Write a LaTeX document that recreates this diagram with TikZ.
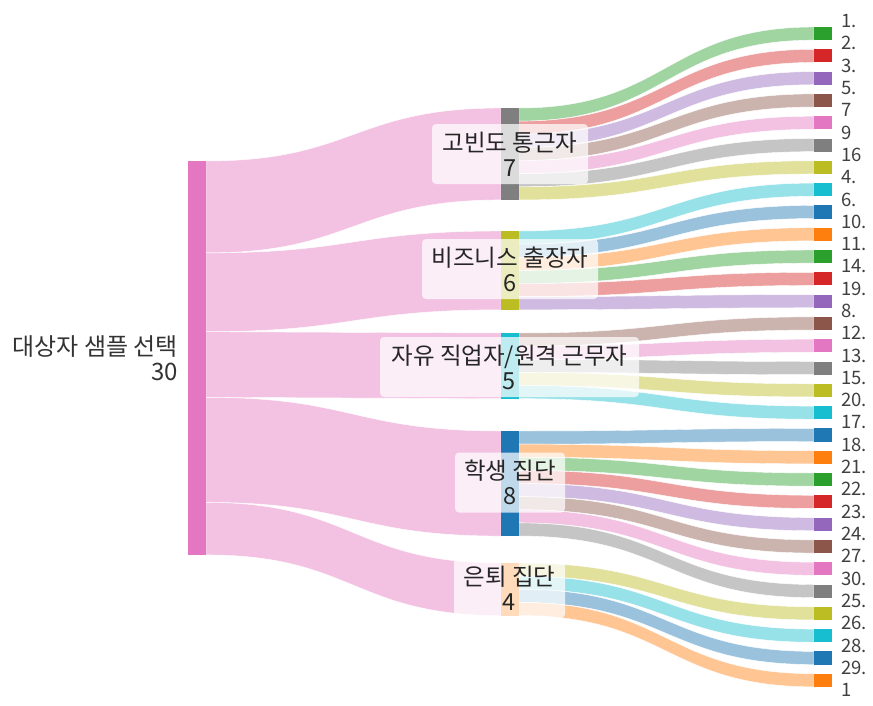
\documentclass[tikz,border=0pt]{standalone}
\usepackage{fontspec}
\setmainfont{Noto Sans CJK KR}
\usetikzlibrary{calc}
\definecolor{cBlue}{HTML}{1F77B4}
\definecolor{cOrange}{HTML}{FF7F0E}
\definecolor{cGreen}{HTML}{2CA02C}
\definecolor{cRed}{HTML}{D62728}
\definecolor{cPurple}{HTML}{9467BD}
\definecolor{cBrown}{HTML}{8C564B}
\definecolor{cPink}{HTML}{E377C2}
\definecolor{cGray}{HTML}{7F7F7F}
\definecolor{cOlive}{HTML}{BCBD22}
\definecolor{cCyan}{HTML}{17BECF}
\def\uu{13.13}
\tikzset{
  bar/.style={rectangle, inner sep=0pt, outer sep=0pt, minimum width=18pt, anchor=north west, draw=none},
  lblbox/.style={rectangle, rounded corners=4pt, fill=white, fill opacity=0.72, text opacity=1,
    align=center, inner sep=0pt, text=black!85, font=\fontsize{23.5}{25}\selectfont},
  endlbl/.style={anchor=west, inner sep=0pt, text=black!75, font=\fontsize{18.5}{18.5}\selectfont},
  srclbl/.style={anchor=east, align=right, inner sep=0pt, text=black!80, font=\fontsize{24}{25}\selectfont}
}
% #1 source node, #2 source offset (units), #3 target node, #4 target offset (units), #5 thickness (units), #6 colour
\newcommand\ribbon[6]{%
  \fill[#6, draw=white, line width=0.4pt]
    let \p1=($(#1.north east)+(0pt,{-(#2)*\uu pt})$),
        \p2=($(#3.north west)+(0pt,{-(#4)*\uu pt})$) in
    (\p1) .. controls ({(\x1+\x2)/2},\y1) and ({(\x1+\x2)/2},\y2) .. (\p2)
    -- (\x2,{\y2-(#5)*\uu pt})
    .. controls ({(\x1+\x2)/2},{\y2-(#5)*\uu pt}) and ({(\x1+\x2)/2},{\y1-(#5)*\uu pt}) .. (\x1,{\y1-(#5)*\uu pt})
    -- cycle;}
\begin{document}
\begin{tikzpicture}[x=1pt,y=-1pt]
\useasboundingbox (0,0) rectangle (873,705);
% nodes
\node[bar, fill=cPink, minimum height=30*\uu pt] (L) at (188,161) {};
\node[bar, fill=cGray,  minimum height=7*\uu pt] (M1) at (501,108) {};
\node[bar, fill=cOlive, minimum height=6*\uu pt] (M2) at (501,231) {};
\node[bar, fill=cCyan,  minimum height=5*\uu pt] (M3) at (501,333) {};
\node[bar, fill=cBlue,  minimum height=8*\uu pt] (M4) at (501,431) {};
\node[bar, fill=cOrange,minimum height=4*\uu pt] (M5) at (501,563) {};
\foreach \c [count=\j from 0] in {cGreen,cRed,cPurple,cBrown,cPink,cGray,cOlive,cCyan,cBlue,cOrange,
  cGreen,cRed,cPurple,cBrown,cPink,cGray,cOlive,cCyan,cBlue,cOrange,
  cGreen,cRed,cPurple,cBrown,cPink,cGray,cOlive,cCyan,cBlue,cOrange}
  {\node[bar, fill=\c, minimum height=\uu pt] (R\j) at (814,{27+22.3*\j}) {};}
% ribbons left -> middle
\ribbon{L}{0}{M1}{0}{7}{cPink!45}
\ribbon{L}{7}{M2}{0}{6}{cPink!45}
\ribbon{L}{13}{M3}{0}{5}{cPink!45}
\ribbon{L}{18}{M4}{0}{8}{cPink!45}
\ribbon{L}{26}{M5}{0}{4}{cPink!45}
% ribbons middle -> right
\foreach \s/\k/\j/\c in {
  M1/0/0/cGreen, M1/1/1/cRed, M1/2/2/cPurple, M1/3/3/cBrown, M1/4/4/cPink, M1/5/5/cGray, M1/6/6/cOlive,
  M2/0/7/cCyan, M2/1/8/cBlue, M2/2/9/cOrange, M2/3/10/cGreen, M2/4/11/cRed, M2/5/12/cPurple,
  M3/0/13/cBrown, M3/1/14/cPink, M3/2/15/cGray, M3/3/16/cOlive, M3/4/17/cCyan,
  M4/0/18/cBlue, M4/1/19/cOrange, M4/2/20/cGreen, M4/3/21/cRed, M4/4/22/cPurple, M4/5/23/cBrown, M4/6/24/cPink, M4/7/25/cGray,
  M5/0/26/cOlive, M5/1/27/cCyan, M5/2/28/cBlue, M5/3/29/cOrange}
  {\ribbon{\s}{\k}{R\j}{0}{1}{\c!45}}
% redraw node bars on top of ribbons
\fill[cPink] (L.north west) rectangle (L.south east);
\fill[cGray] (M1.north west) rectangle (M1.south east);
\fill[cOlive] (M2.north west) rectangle (M2.south east);
\fill[cCyan] (M3.north west) rectangle (M3.south east);
\fill[cBlue] (M4.north west) rectangle (M4.south east);
\fill[cOrange] (M5.north west) rectangle (M5.south east);
\foreach \c [count=\j from 0] in {cGreen,cRed,cPurple,cBrown,cPink,cGray,cOlive,cCyan,cBlue,cOrange,
  cGreen,cRed,cPurple,cBrown,cPink,cGray,cOlive,cCyan,cBlue,cOrange,
  cGreen,cRed,cPurple,cBrown,cPink,cGray,cOlive,cCyan,cBlue,cOrange}
  {\fill[\c] (R\j.north west) rectangle (R\j.south east);}
% labels
\node[lblbox, minimum width=156pt, minimum height=60pt] (B1) at (510,154) {고빈도 통근자\\7};
\node[lblbox, minimum width=176pt, minimum height=60pt] (B2) at (510,269) {비즈니스 출장자\\6};
\node[lblbox, minimum width=259pt, minimum height=60pt] (B3) at (509.5,367) {자유 직업자/원격 근무자\\5};
\node[lblbox, minimum width=110pt, minimum height=60pt] (B4) at (510,482.5) {학생 집단\\8};
\node[lblbox, minimum width=111pt, minimum height=60pt] (B5) at (509.5,588) {은퇴 집단\\4};
\node[srclbl] (Ltxt) at (178,358.5) {대상자 샘플 선택\\30};
\foreach \t [count=\k from 0] in {1.,2.,3.,5.,7,9,16,4.,6.,10.,11.,14.,19.,8.,12.,13.,15.,20.,17.,18.,21.,22.,23.,24.,27.,30.,25.,26.,28.,29.,1}
  {\node[endlbl] (T\k) at (841,{21+22.3*\k}) {\t};}
\end{tikzpicture}
\end{document}
